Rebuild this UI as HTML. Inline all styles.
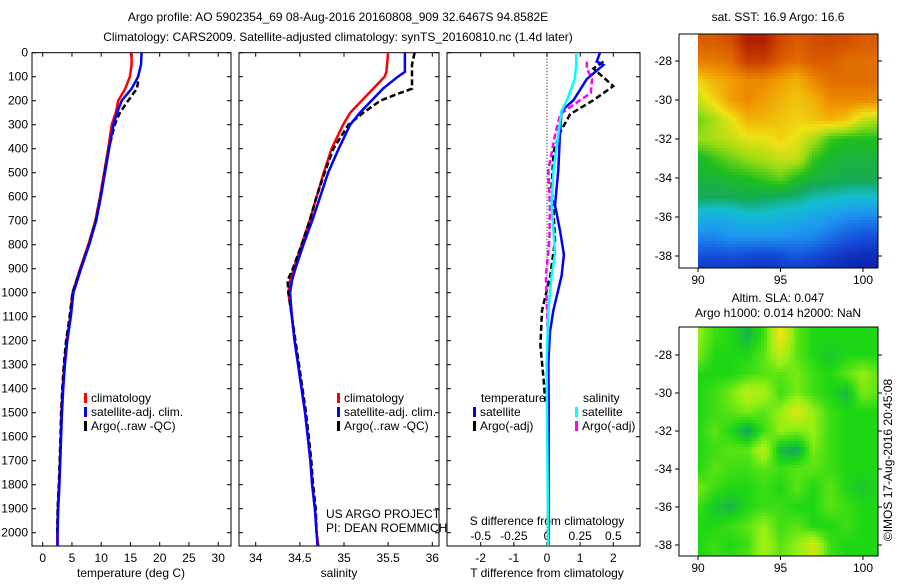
<!DOCTYPE html>
<html><head><meta charset="utf-8"><style>
body{margin:0;background:#fff;}
svg{font-family:"Liberation Sans",sans-serif;font-size:12px;}
</style></head><body>
<svg id="fig" width="900" height="580" viewBox="0 0 900 580" xmlns="http://www.w3.org/2000/svg">
<text x="338" y="21" text-anchor="middle">Argo profile: AO 5902354_69 08-Aug-2016 20160808_909 32.6467S 94.8582E</text>
<text x="338" y="41" text-anchor="middle">Climatology: CARS2009. Satellite-adjusted climatology: synTS_20160810.nc (1.4d later)</text>
<text x="778" y="21" text-anchor="middle">sat. SST: 16.9 Argo: 16.6</text>
<text x="778" y="302" text-anchor="middle">Altim. SLA: 0.047</text>
<text x="778" y="317" text-anchor="middle">Argo h1000: 0.014 h2000: NaN</text>
<text transform="translate(892,460) rotate(-90)" text-anchor="middle">©IMOS 17-Aug-2016 20:45:08</text>
<g id="maps"></g>
<g id="profiles"></g>
</svg>
<script>
// ---------- data ----------
const depthT = [0,50,100,150,200,250,300,400,500,600,700,800,900,1000,1100,1200,1300,1400,1500,1600,1700,1800,1900,2000,2055];
const tempClim = [15.2,15.2,14.9,14.1,12.9,12.5,11.8,11.2,10.5,9.8,9.0,7.8,6.4,5.1,4.7,4.1,3.7,3.4,3.2,3.1,2.95,2.8,2.6,2.5,2.5];
const tempSat  = [16.9,16.8,16.3,15.2,13.5,12.7,12.1,11.35,10.65,9.95,9.15,7.95,6.55,5.25,4.8,4.2,3.8,3.5,3.3,3.15,3.0,2.85,2.65,2.55,2.55];
const depthTA = [120,150,200,250,300,400,500,600,700,800,900,1000,1100,1200,1300,1400,1500,1600,1700,1800,1900,2000];
const tempArgo = [16.3,16.1,14.6,13.2,12.3,11.3,10.6,9.9,9.1,7.9,6.5,5.1,4.6,4.0,3.6,3.35,3.15,3.05,2.9,2.75,2.55,2.5];
const depthS = [0,80,100,150,200,250,300,400,500,600,700,800,900,950,1000,1100,1200,1300,1400,1500,1600,1700,1800,1900,2000,2055];
const salClim = [35.50,35.48,35.46,35.33,35.20,35.07,34.99,34.86,34.77,34.69,34.61,34.52,34.43,34.39,34.37,34.41,34.44,34.48,34.52,34.56,34.59,34.62,34.64,34.67,34.69,34.71];
const salSat  = [35.69,35.69,35.61,35.44,35.31,35.18,35.07,34.94,34.82,34.73,34.64,34.54,34.45,34.41,34.39,34.41,34.44,34.48,34.52,34.56,34.59,34.62,34.64,34.67,34.69,34.70];
const depthSA = [0,50,150,170,200,250,300,400,500,600,700,800,900,950,1000,1100,1200,1300,1400,1500,1600,1700,1800,1900,2000];
const salArgo = [35.80,35.77,35.77,35.62,35.41,35.22,35.05,34.88,34.78,34.69,34.61,34.52,34.42,34.36,34.37,34.41,34.45,34.49,34.53,34.57,34.60,34.63,34.65,34.68,34.69];
const depthD = [0,37,51,110,198,242,343,489,636,739,841,929,1075,1163,1293,1500,2055];
const dTsat  = [1.6,1.5,1.7,1.2,0.8,0.44,0.39,0.34,0.24,0.39,0.51,0.44,0.19,0.09,0.04,0.05,0.05];
const dSsat  = [0.22,0.22,0.22,0.21,0.15,0.11,0.085,0.048,0.035,0.048,0.06,0.035,0.01,0.005,-0.003,0.0,0.01];
const depthDA = [37,66,139,198,256,330,413,558,660,782,929,1075,1220,1366,1454];
const dTargo = [1.7,1.4,2.0,1.4,0.7,0.4,0.2,0.14,0.2,0.24,0.1,-0.15,-0.2,-0.1,-0.05];
const depthDS = [37,66,110,168,198,256,343,489,636,782,929,1075,1220,1500,2000];
const dSargo = [0.3,0.3,0.34,0.33,0.25,0.1,0.06,0.01,0.022,0.018,-0.008,0.0,0.01,0.012,0.012];
const depthTicks = [0,100,200,300,400,500,600,700,800,900,1000,1100,1200,1300,1400,1500,1600,1700,1800,1900,2000];
const tempTicks = [0,5,10,15,20,25,30];
const salTicks = [34,34.5,35,35.5,36];
const dTTicks = [-2,-1,0,1,2];
const dSTickLabels = ['-0.5','-0.25','0','0.25','0.5'];
const dSTicks = [-0.5,-0.25,0,0.25,0.5];
const mapLons = [90,95,100];
const mapLats = [-28,-30,-32,-34,-36,-38];
const sstGrid = [
[0.85,0.85,0.87,0.95,0.95,0.88,0.85,0.87,0.88,0.87,0.85,0.85],
[0.80,0.80,0.82,0.90,0.90,0.85,0.82,0.85,0.85,0.82,0.82,0.82],
[0.68,0.72,0.75,0.78,0.78,0.75,0.72,0.78,0.82,0.82,0.82,0.82],
[0.62,0.68,0.75,0.78,0.75,0.72,0.70,0.72,0.78,0.78,0.78,0.78],
[0.55,0.60,0.65,0.72,0.72,0.70,0.68,0.70,0.72,0.70,0.62,0.60],
[0.58,0.60,0.62,0.65,0.65,0.68,0.65,0.60,0.52,0.50,0.50,0.50],
[0.48,0.52,0.55,0.58,0.60,0.62,0.62,0.52,0.48,0.47,0.47,0.47],
[0.47,0.47,0.49,0.50,0.52,0.55,0.50,0.47,0.46,0.45,0.45,0.45],
[0.44,0.44,0.44,0.45,0.44,0.43,0.42,0.40,0.39,0.38,0.38,0.38],
[0.36,0.34,0.35,0.37,0.37,0.36,0.35,0.33,0.31,0.29,0.28,0.28],
[0.28,0.28,0.30,0.30,0.30,0.30,0.29,0.28,0.25,0.22,0.20,0.20],
[0.20,0.19,0.20,0.19,0.18,0.19,0.21,0.19,0.17,0.15,0.14,0.14],
[0.15,0.15,0.15,0.14,0.14,0.15,0.15,0.15,0.14,0.13,0.12,0.12]];
const slaGrid = [
[.6,.45,.4,.3,.45,.85,.5,.4,.4,.4,.4,.4],
[.55,.4,.4,.4,.5,.7,.5,.4,.35,.4,.4,.4],
[.4,.4,.4,.45,.5,.5,.55,.45,.4,.5,.6,.5],
[.4,.45,.55,.7,.65,.45,.55,.45,.4,.3,.55,.5],
[.4,.45,.5,.55,.5,.6,.8,.6,.45,.4,.4,.4],
[.4,.5,.4,.25,.45,.6,.55,.6,.45,.4,.4,.4],
[.4,.45,.5,.5,.7,.3,.25,.55,.45,.4,.4,.4],
[.4,.5,.45,.45,.5,.45,.5,.5,.45,.4,.4,.4],
[.55,.45,.4,.4,.45,.4,.5,.4,.5,.4,.35,.4],
[.45,.35,.3,.4,.45,.45,.4,.4,.5,.45,.4,.4],
[.4,.4,.45,.5,.6,.45,.5,.4,.4,.45,.4,.4],
[.4,.45,.4,.45,.65,.5,.6,.75,.45,.4,.4,.4],
[.4,.45,.45,.5,.6,.5,.6,.7,.45,.4,.4,.4]];

const NS='http://www.w3.org/2000/svg';
function mk(tag,attrs,parent){const e=document.createElementNS(NS,tag);for(const k in attrs)e.setAttribute(k,attrs[k]);parent.appendChild(e);return e;}
const prof=document.getElementById('profiles');
const Y0=52.7,Y1=546,yD=d=>Y0+d*0.24;
const panels={
 t:{x0:32,x1:231,f:v=>42.7+v*5.85},
 s:{x0:239,x1:439,f:v=>255.7+(v-34)*88.3},
 d:{x0:447,x1:640,f:v=>547+v*33.15}
};
function line(p,ds,vs,color,w,dash,name){
 const pts=ds.map((d,i)=>p.f(vs[i]).toFixed(1)+','+yD(d).toFixed(1)).join(' ');
 const e=mk('polyline',{points:pts,fill:'none',stroke:color,'stroke-width':w},prof);
 if(dash)e.setAttribute('stroke-dasharray',dash);
 
 
}
function frame(p,name){
 const r=mk('rect',{x:p.x0,y:Y0,width:p.x1-p.x0,height:Y1-Y0,fill:'none',stroke:'#000','stroke-width':1},prof);
 
 
 depthTicks.forEach(d=>{
  mk('line',{x1:p.x0,x2:p.x0+4,y1:yD(d),y2:yD(d),stroke:'#000'},prof);
  mk('line',{x1:p.x1,x2:p.x1-4,y1:yD(d),y2:yD(d),stroke:'#000'},prof);
 });
}
function xticks(p,ticks,labels,ly,name){
 ticks.forEach((v,i)=>{
  const x=p.f(v);
  mk('line',{x1:x,x2:x,y1:Y1,y2:Y1-4,stroke:'#000'},prof);
  mk('line',{x1:x,x2:x,y1:Y0,y2:Y0+4,stroke:'#000'},prof);
  const t=mk('text',{x:x,y:ly,'text-anchor':'middle'},prof);t.textContent=labels[i];
  
  
 });
}
frame(panels.t,'temperature-axes');frame(panels.s,'salinity-axes');frame(panels.d,'difference-axes');
depthTicks.forEach(d=>{const t=mk('text',{x:28,y:yD(d)+4,'text-anchor':'end'},prof);t.textContent=d;
 
 });
xticks(panels.t,tempTicks,tempTicks.map(String),562,'temp-tick-label');
xticks(panels.s,salTicks,salTicks.map(String),562,'sal-tick-label');
xticks(panels.d,dTTicks,dTTicks.map(String),562,'tdiff-tick-label');
dSTicks.forEach((v,i)=>{const t=mk('text',{x:panels.d.f(v*4),y:540,'text-anchor':'middle'},prof);t.textContent=dSTickLabels[i];
 
 });
function label(x,y,s,name,anchor){const t=mk('text',{x:x,y:y,'text-anchor':anchor||'middle'},prof);t.textContent=s;
 
 return t;}
label(131,577,'temperature (deg C)','temp-axis-title');
label(339,577,'salinity','sal-axis-title');
label(547,577,'T difference from climatology','tdiff-axis-title');
label(547,525,'S difference from climatology','sdiff-axis-title');
label(326,518,'US ARGO PROJECT','project-label','start');
label(326,532,'PI: DEAN ROEMMICH','pi-label','start');
const z=mk('line',{x1:547,x2:547,y1:Y0,y2:Y1,stroke:'#000','stroke-dasharray':'1,2'},prof);


line(panels.t,depthT,tempClim,'#f00',2.5,null,'temp-climatology-line');
line(panels.t,depthTA,tempArgo,'#000',2.5,'6,3','temp-argo-line');
line(panels.t,depthT,tempSat,'#00f',2.5,null,'temp-satellite-line');
line(panels.s,depthS,salClim,'#f00',2.5,null,'sal-climatology-line');
line(panels.s,depthSA,salArgo,'#000',2.5,'6,3','sal-argo-line');
line(panels.s,depthS,salSat,'#00f',2.5,null,'sal-satellite-line');
line(panels.d,depthDA,dTargo,'#000',2.5,'6,3','tdiff-argo-line');
line(panels.d,depthDS,dSargo.map(v=>v*4),'#f0f',2.5,'6,3','sdiff-argo-line');
line(panels.d,depthD,dTsat,'#00f',2.5,null,'tdiff-satellite-line');
line(panels.d,depthD,dSsat.map(v=>v*4),'#0ff',2.5,null,'sdiff-satellite-line');
function legEntry(x,y,color,s,name){
 mk('rect',{x:x,y:y-9,width:3,height:10,fill:color},prof);
 label(x+7,y,s,name,'start');
}
legEntry(84,402,'#f00','climatology','legend-climatology');
legEntry(84,416,'#00f','satellite-adj. clim.','legend-satellite');
legEntry(84,430,'#000','Argo(..raw -QC)','legend-argo');
legEntry(337,402,'#f00','climatology','legend-climatology-sal');
legEntry(337,416,'#00f','satellite-adj. clim.','legend-satellite-sal');
legEntry(337,430,'#000','Argo(..raw -QC)','legend-argo-sal');
label(481,402,'temperature','legend-temp-header','start');
label(583,402,'salinity','legend-sal-header','start');
legEntry(473,416,'#00f','satellite','legend-tdiff-sat');
legEntry(473,430,'#000','Argo(-adj)','legend-tdiff-argo');
legEntry(575,416,'#0ff','satellite','legend-sdiff-sat');
legEntry(575,430,'#f0f','Argo(-adj)','legend-sdiff-argo');

// ---------- maps ----------
const maps=document.getElementById('maps');
function ramp(stops,v){
 if(v<=stops[0][0])return 'rgb('+stops[0][1].join(',')+')';
 for(let i=1;i<stops.length;i++){if(v<=stops[i][0]){const a=stops[i-1],b=stops[i],t=(v-a[0])/(b[0]-a[0]);
  return 'rgb('+a[1].map((c,k)=>Math.round(c+(b[1][k]-c)*t)).join(',')+')';}}
 return 'rgb('+stops[stops.length-1][1].join(',')+')';}
const sstStops=[[0.1,[10,20,160]],[0.2,[20,80,220]],[0.3,[30,150,240]],[0.38,[20,190,210]],[0.44,[20,170,90]],[0.5,[30,190,30]],[0.58,[150,220,20]],[0.66,[240,225,20]],[0.76,[240,150,0]],[0.86,[215,85,0]],[0.97,[170,20,0]]];
const slaStops=[[0.2,[20,150,120]],[0.4,[30,215,20]],[0.6,[150,240,20]],[0.85,[245,225,15]]];
function drawMap(grid,stops,top,bot,lat28y,pxPerDeg,name){
 const g=mk('g',{},maps);
 
 
 const lx=lon=>698+(lon-90)*16.5;
 const ly=lat=>lat28y+(-28-lat)*pxPerDeg;
 const cs=3;
 for(let y=top;y<bot;y+=cs){for(let x=698;x<878;x+=cs){
  const lon=90+(x+cs/2-698)/16.5, lat=-28-((y+cs/2)-lat28y)/pxPerDeg;
  let gx=Math.max(0,Math.min(grid[0].length-1.001,lon-90));
  let gy=Math.max(0,Math.min(grid.length-1.001,-27-lat));
  const i=Math.floor(gy),j=Math.floor(gx),fy=gy-i,fx=gx-j;
  const v=grid[i][j]*(1-fx)*(1-fy)+grid[i][j+1]*fx*(1-fy)+grid[i+1][j]*(1-fx)*fy+grid[i+1][j+1]*fx*fy;
  mk('rect',{x:x,y:y,width:cs+0.5,height:Math.min(cs,bot-y)+0.5,fill:ramp(stops,v)},g);
 }}
 mk('rect',{x:679,y:top,width:199,height:bot-top,fill:'none',stroke:'#000'},g);
 mapLons.forEach(l=>{const x=lx(l);mk('line',{x1:x,x2:x,y1:bot,y2:bot+4,stroke:'#000'},g);
  const t=mk('text',{x:x,y:bot+16,'text-anchor':'middle'},g);t.textContent=l;
  
  });
 mapLats.forEach(l=>{const y=ly(l);mk('line',{x1:675,x2:679,y1:y,y2:y,stroke:'#000'},g);
  mk('line',{x1:878,x2:882,y1:y,y2:y,stroke:'#000'},g);
  const t=mk('text',{x:672,y:y+4,'text-anchor':'end'},g);t.textContent=l;
  
  });
}
drawMap(sstGrid,sstStops,34,268,61,19.5,'sst-map');
drawMap(slaGrid,slaStops,327,556,355,19,'sla-map');
</script>
</body></html>
